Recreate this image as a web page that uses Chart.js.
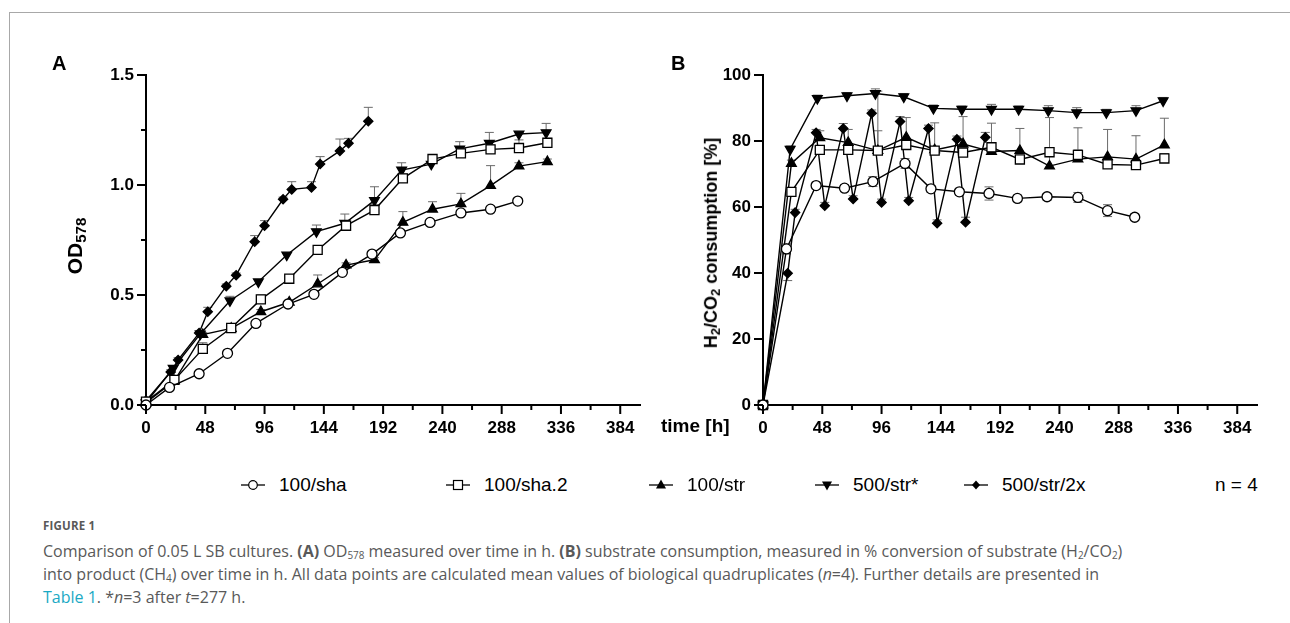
<!DOCTYPE html>
<html>
<head>
<meta charset="utf-8">
<script src="https://cdn.jsdelivr.net/npm/chart.js@4.4.1/dist/chart.umd.min.js"></script>
<style>
  body { margin: 0; width: 1290px; height: 623px; background: #fff; position: relative; overflow: hidden; font-family: "Liberation Sans", Arial, sans-serif; }
  canvas { position: absolute; top: 0; }
  #chartA { left: 0; }
  #chartB { left: 690px; }
  .frameTop { position: absolute; left: 9px; top: 12px; width: 1281px; height: 1px; background: #a8a8a8; }
  .frameLeft { position: absolute; left: 9px; top: 12px; width: 1px; height: 611px; background: #a8a8a8; }
  .panel { position: absolute; font-weight: bold; font-size: 20px; }
  .ytitle { position: absolute; font-weight: bold; white-space: nowrap; transform: translate(-50%, -50%) rotate(-90deg); }
  .ytitle sub { font-size: 0.72em; vertical-align: -0.25em; }
  .xtitle { position: absolute; left: 661px; top: 416px; font-weight: bold; font-size: 19px; line-height: 19px; }
  .leg { position: absolute; top: 474px; height: 22px; font-size: 19px; line-height: 22px; white-space: nowrap; }
  .leg svg { position: absolute; top: 0; }
  .caption { position: absolute; left: 43px; font-family: "Open Sans", sans-serif; color: #595959; white-space: nowrap; }
  .caption sub { font-size: 0.62em; vertical-align: -0.2em; }
  .fig { top: 518px; font-size: 11.5px; font-weight: bold; letter-spacing: 0.2px; }
  .cap { font-size: 16px; line-height: 23px; }
  .link { color: #1aa9c4; }
</style>
</head>
<body>
<div class="frameTop"></div>
<div class="frameLeft"></div>

<canvas id="chartA" width="740" height="445"></canvas>
<canvas id="chartB" width="590" height="445"></canvas>

<div class="panel" style="left:52px; top:52px;">A</div>
<div class="panel" style="left:671px; top:52px;">B</div>
<div class="ytitle" style="left:76px; top:246px; font-size:21px;">OD<sub>578</sub></div>
<div class="ytitle" style="left:712px; top:243px; font-size:18px;">H<sub>2</sub>/CO<sub>2</sub> consumption [%]</div>
<div class="xtitle">time [h]</div>

<div id="legend"></div>

<div class="caption fig">FIGURE 1</div>
<div class="caption cap" style="top:540px;">Comparison of 0.05 L SB cultures. <b>(A)</b> OD<sub>578</sub> measured over time in h. <b>(B)</b> substrate consumption, measured in % conversion of substrate (H<sub>2</sub>/CO<sub>2</sub>)</div>
<div class="caption cap" style="top:563px;">into product (CH<sub>4</sub>) over time in h. All data points are calculated mean values of biological quadruplicates (<i>n</i>=4). Further details are presented in</div>
<div class="caption cap" style="top:586px;"><span class="link">Table 1</span>. *<i>n</i>=3 after <i>t</i>=277 h.</div>

<script>
// sampling times [h]
const timeSha = [0, 19, 43, 66, 89, 115, 136, 159, 183, 206, 230, 255, 279, 301];
const timeSha2 = [0, 23, 46, 69, 93, 116, 139, 162, 185, 208, 232, 255, 279, 302, 325];
const timeStr = [0, 23, 46, 69, 93, 116, 139, 162, 185, 208, 232, 255, 279, 302, 325];
const timeStar = [0, 22, 44, 68, 91, 114, 138, 161, 185, 207, 231, 254, 278, 302, 324];
const time2x = [0, 20, 26, 43, 50, 65, 73, 88, 96, 111, 118, 134, 141, 157, 164, 180];

const seriesNames = ['100/sha', '100/sha.2', '100/str', '500/str*', '500/str/2x'];

// panel A: OD578
const odSha = [0.0, 0.08, 0.142, 0.235, 0.371, 0.459, 0.503, 0.603, 0.686, 0.782, 0.83, 0.873, 0.89, 0.927];
const odSha2 = [0.015, 0.114, 0.255, 0.35, 0.48, 0.574, 0.705, 0.815, 0.886, 1.03, 1.118, 1.144, 1.162, 1.168, 1.192];
const odStr = [0.01, 0.11, 0.32, 0.348, 0.424, 0.467, 0.55, 0.636, 0.66, 0.83, 0.89, 0.914, 0.997, 1.086, 1.106];
const odStar = [0.01, 0.167, 0.323, 0.474, 0.56, 0.682, 0.788, 0.826, 0.93, 1.068, 1.095, 1.164, 1.19, 1.232, 1.238];
const od2x = [0.02, 0.15, 0.205, 0.327, 0.424, 0.54, 0.59, 0.742, 0.815, 0.935, 0.98, 0.989, 1.095, 1.155, 1.19, 1.29];

const odSdSha = [0, 0.008, 0.01, 0.01, 0.012, 0.01, 0.01, 0.01, 0.012, 0.01, 0.01, 0.012, 0.01, 0.01];
const odSdSha2 = [0, 0.01, 0.028, 0.01, 0.02, 0.015, 0.02, 0.02, 0.025, 0.02, 0.01, 0.02, 0.02, 0.037, 0.02];
const odSdStr = [0, 0.01, 0.01, 0.01, 0.01, 0.01, 0.041, 0.01, 0.01, 0.049, 0.034, 0.048, 0.091, 0.015, 0.012];
const odSdStar = [0, 0.01, 0.01, 0.02, 0.01, 0.01, 0.03, 0.042, 0.062, 0.033, 0.01, 0.033, 0.049, 0.01, 0.042];
const odSd2x = [0, 0.01, 0.01, 0.01, 0.02, 0.01, 0.01, 0.028, 0.023, 0.01, 0.035, 0.026, 0.034, 0.054, 0.022, 0.063];

// panel B: H2/CO2 consumption [%]
const consSha = [0, 47.3, 66.5, 65.7, 67.7, 73.2, 65.5, 64.6, 64.1, 62.6, 63.1, 62.9, 58.9, 56.9];
const consSha2 = [0, 64.6, 77.3, 77.3, 77.1, 78.8, 77.1, 76.5, 78.1, 74.4, 76.6, 75.8, 72.9, 72.7, 74.7];
const consStr = [0, 73.2, 81.0, 79.5, 77.1, 81.1, 77.3, 79.1, 76.8, 77.1, 72.4, 74.5, 75.2, 74.5, 78.8];
const consStar = [0, 77.5, 92.9, 93.7, 94.4, 93.4, 89.9, 89.6, 89.6, 89.6, 89.2, 88.6, 88.6, 89.2, 92.2];
const cons2x = [0, 39.9, 58.3, 82.5, 60.4, 83.8, 62.4, 88.4, 61.4, 85.9, 61.9, 83.8, 55.1, 80.5, 55.4, 81.1];

const consSdSha = [0, 1.5, 1, 1, 1.5, 1.5, 1, 1, 2, 1, 1, 1.5, 1.8, 1];
const consSdSha2 = [0, 1, 1, 1, 18, 2, 1, 1, 1, 1, 1, 1.5, 1, 1, 1.5];
const consSdStr = [0, 1, 2.1, 4, 6, 6, 8.2, 8.3, 8.6, 6.7, 14.7, 9.5, 8.3, 7.1, 8.1];
const consSdStar = [0, 1, 1, 1, 1.4, 1, 1, 1, 1.5, 1, 1.5, 1.5, 1, 1.5, 1];
const consSd2x = [0, -2.2, 1, 1, 1, 1.5, 1, 1, 1, 1.5, 1, 1, 1, 1, 1.5, 1.5];

// axis ticks
const xTicks = [0, 48, 96, 144, 192, 240, 288, 336, 384];
const xMinorTicks = [24, 72, 120, 168, 216, 264, 312, 360];
const yTicksA = [0, 0.5, 1.0, 1.5];
const yMinorTicksA = [0.25, 0.75, 1.25];
const yTicksB = [0, 20, 40, 60, 80, 100];

const markers = [
  { pointStyle: 'circle', radius: 5, fill: '#fff', rotation: 0 },
  { pointStyle: 'rect', radius: 6.4, fill: '#fff', rotation: 0 },
  { pointStyle: 'triangle', radius: 5.6, fill: '#000', rotation: 0 },
  { pointStyle: 'triangle', radius: 5.6, fill: '#000', rotation: 180 },
  { pointStyle: 'rectRot', radius: 4.6, fill: '#000', rotation: 0 }
];

function toPoints(xs, ys) {
  return xs.map((x, i) => ({ x: x, y: ys[i] }));
}

function buildDatasets(times, values, sds) {
  return values.map((vals, i) => ({
    label: seriesNames[i],
    data: toPoints(times[i], vals),
    sd: sds[i],
    sdBoth: i === 0,
    borderColor: '#000',
    borderWidth: 1.4,
    backgroundColor: markers[i].fill,
    pointBackgroundColor: markers[i].fill,
    pointBorderColor: '#000',
    pointBorderWidth: 1.3,
    pointStyle: markers[i].pointStyle,
    pointRadius: markers[i].radius,
    pointRotation: markers[i].rotation,
    tension: 0,
    clip: false
  }));
}

const errorBars = {
  id: 'errorBars',
  beforeDatasetsDraw(chart) {
    const ctx = chart.ctx;
    const ys = chart.scales.y;
    ctx.save();
    ctx.strokeStyle = '#6a6a6a';
    ctx.lineWidth = 1;
    chart.data.datasets.forEach((ds, i) => {
      const meta = chart.getDatasetMeta(i);
      ds.sd.forEach((e, j) => {
        if (!e) return;
        const pt = meta.data[j];
        const v = ds.data[j].y;
        const ends = ds.sdBoth ? [v + e, v - Math.abs(e)] : [v + e];
        ends.forEach(end => {
          const py = ys.getPixelForValue(end);
          ctx.beginPath();
          ctx.moveTo(pt.x, pt.y);
          ctx.lineTo(pt.x, py);
          ctx.moveTo(pt.x - 4.5, py);
          ctx.lineTo(pt.x + 4.5, py);
          ctx.stroke();
        });
      });
    });
    ctx.restore();
  }
};

const tickMarks = {
  id: 'tickMarks',
  afterDraw(chart, args, opts) {
    const ctx = chart.ctx;
    const xs = chart.scales.x, ys = chart.scales.y;
    const area = chart.chartArea;
    ctx.save();
    ctx.strokeStyle = '#000';
    ctx.lineWidth = 2;
    ctx.beginPath();
    xTicks.forEach(v => { const p = xs.getPixelForValue(v); ctx.moveTo(p, area.bottom); ctx.lineTo(p, area.bottom + 9); });
    xMinorTicks.forEach(v => { const p = xs.getPixelForValue(v); ctx.moveTo(p, area.bottom); ctx.lineTo(p, area.bottom + 5); });
    opts.yMajor.forEach(v => { const p = ys.getPixelForValue(v); ctx.moveTo(area.left, p); ctx.lineTo(area.left - 9, p); });
    opts.yMinor.forEach(v => { const p = ys.getPixelForValue(v); ctx.moveTo(area.left, p); ctx.lineTo(area.left - 5, p); });
    ctx.stroke();
    ctx.restore();
  }
};

function makeChart(id, datasets, yMax, yTicks, yMinor, yFmt, yWidth, padRight) {
  const tickFont = { family: '"Liberation Sans", Arial, sans-serif', size: 17, weight: 'bold' };
  return new Chart(document.getElementById(id), {
    type: 'line',
    data: { datasets: datasets },
    plugins: [errorBars, tickMarks],
    options: {
      responsive: false,
      animation: false,
      layout: { padding: { left: 0, top: 75, right: padRight, bottom: 0 } },
      plugins: { legend: { display: false }, tooltip: { enabled: false }, tickMarks: { yMajor: yTicks, yMinor: yMinor } },
      scales: {
        x: {
          type: 'linear', min: 0, max: 400,
          grid: { display: false, drawTicks: false },
          border: { display: true, color: '#000', width: 2 },
          afterBuildTicks: s => { s.ticks = xTicks.map(v => ({ value: v })); },
          afterFit: s => { s.height = 40; },
          ticks: { color: '#000', font: tickFont, padding: 13, maxRotation: 0, callback: v => String(v) }
        },
        y: {
          type: 'linear', min: 0, max: yMax,
          grid: { display: false, drawTicks: false },
          border: { display: true, color: '#000', width: 2 },
          afterBuildTicks: s => { s.ticks = yTicks.map(v => ({ value: v })); },
          afterFit: s => { s.width = yWidth; },
          ticks: { color: '#000', font: tickFont, padding: 12, callback: yFmt }
        }
      }
    }
  });
}

makeChart('chartA',
  buildDatasets([timeSha, timeSha2, timeStr, timeStar, time2x],
    [odSha, odSha2, odStr, odStar, od2x],
    [odSdSha, odSdSha2, odSdStr, odSdStar, odSd2x]),
  1.5, yTicksA, yMinorTicksA, v => v.toFixed(1), 146, 100);

makeChart('chartB',
  buildDatasets([timeSha, timeSha2, timeStr, timeStar, time2x],
    [consSha, consSha2, consStr, consStar, cons2x],
    [consSdSha, consSdSha2, consSdStr, consSdStar, consSd2x]),
  100, yTicksB, [], v => String(v), 73, 23);

// legend (HTML, spans both panels)
const legendPos = [241, 446, 649, 815, 964];
const legendSvg = [
  '<circle cx="12" cy="11" r="4.3" fill="#fff" stroke="#000" stroke-width="1.2"/>',
  '<rect x="7.5" y="6.5" width="9" height="9" fill="#fff" stroke="#000" stroke-width="1.2"/>',
  '<polygon points="12,5.5 17,14.5 7,14.5" fill="#000"/>',
  '<polygon points="12,16.5 17,7.5 7,7.5" fill="#000"/>',
  '<polygon points="12,6.5 16,11 12,15.5 8,11" fill="#000"/>'
];
const legend = document.getElementById('legend');
seriesNames.forEach((name, i) => {
  const item = document.createElement('div');
  item.className = 'leg';
  item.style.left = legendPos[i] + 'px';
  item.innerHTML = '<svg width="24" height="22"><line x1="0" y1="11" x2="24" y2="11" stroke="#000" stroke-width="1.3"/>' +
    legendSvg[i] + '</svg><span style="margin-left:38px">' + name + '</span>';
  legend.appendChild(item);
});
const nItem = document.createElement('div');
nItem.className = 'leg';
nItem.style.left = '1215px';
nItem.textContent = 'n = 4';
legend.appendChild(nItem);
</script>
</body>
</html>
